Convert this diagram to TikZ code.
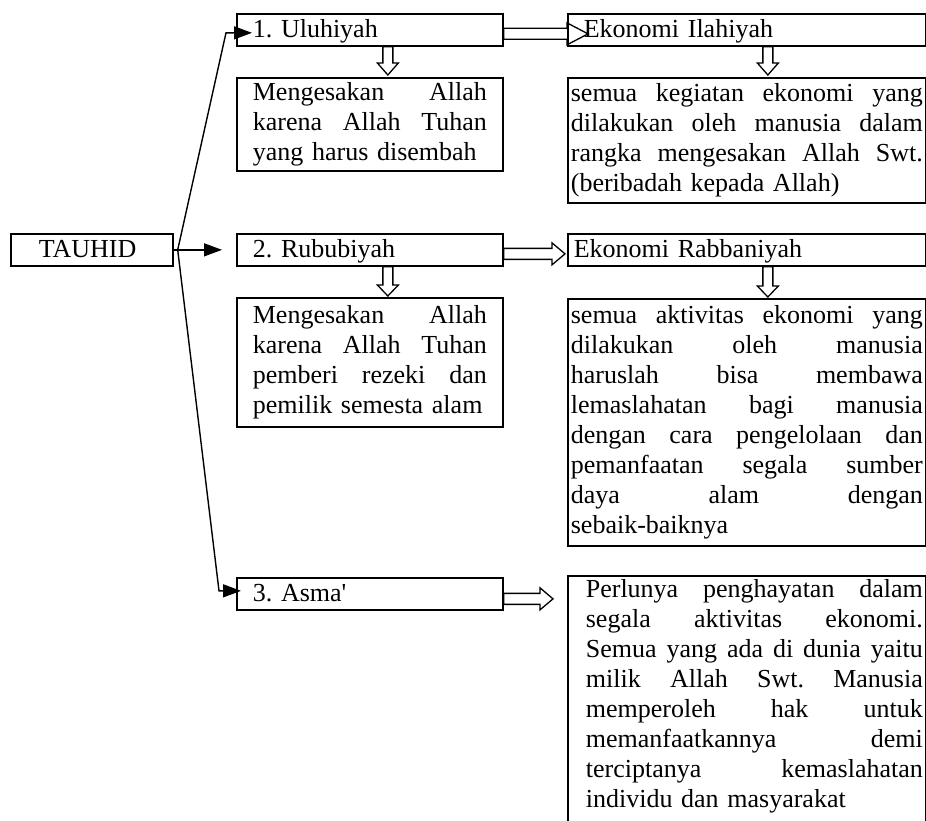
\documentclass[tikz,border=0pt]{standalone}
\usepackage{fontspec}
\setmainfont{Liberation Serif}
\usetikzlibrary{arrows.meta, calc}

% one justified line of a box text (\jw is set by the box style)
\newcommand{\jl}[1]{\leavevmode\hbox to \jw{\spaceskip=.25em plus 1fil\relax #1}\\}
% hollow block arrows
\newcommand{\hollowright}[3]{%
  \draw[hollow] let \p1=#1, \p2=#2 in
    (\x1,\y1+5.5pt) -- (\x2-#3,\y1+5.5pt) -- (\x2-#3,\y1+11pt) -- (\x2,\y1)
    -- (\x2-#3,\y1-11pt) -- (\x2-#3,\y1-5.5pt) -- (\x1,\y1-5.5pt) -- cycle;}
\newcommand{\hollowdown}[3]{%
  \draw[hollow] let \p1=#1, \p2=#2 in
    (\x1-5pt,\y1) -- (\x1-5pt,\y2+#3) -- (\x1-10.5pt,\y2+#3) -- (\x1,\y2)
    -- (\x1+10.5pt,\y2+#3) -- (\x1+5pt,\y2+#3) -- (\x1+5pt,\y1) -- cycle;}

\begin{document}
\begin{tikzpicture}[
  x=1pt, y=-1pt,
  font=\fontsize{26}{30}\selectfont\frenchspacing,
  box/.style={draw, line width=1.7pt, anchor=north west, align=left, inner ysep=1pt},
  headbox/.style={box, text height=23pt, text depth=7pt},
  lcol/.style={inner xsep=16pt, text width=234pt, execute at begin node={\def\jw{234pt}}},
  rcol/.style={inner xsep=3pt, text width=352pt, execute at begin node={\def\jw{352pt}}},
  arr/.style={line width=1.4pt, -{Triangle[length=18pt,width=13pt]}},
  hollow/.style={line width=1.3pt}
]
\useasboundingbox (0,0) rectangle (926,821);
\clip (0,0) rectangle (926,821);

\node[headbox, inner xsep=28pt, text width=106pt] (tauhid) at (10,233) {TAUHID};

% left column
\node[headbox, lcol] (ulu)  at (236,13)  {1. Uluhiyah};
\node[box, lcol, minimum height=93pt] (m1) at (236,77)
  {\strut\jl{Mengesakan Allah}\jl{karena Allah Tuhan}yang harus disembah\strut};
\node[headbox, lcol] (rub)  at (236,233) {2. Rububiyah};
\node[box, lcol, minimum height=129pt] (m2) at (236,297)
  {\strut\jl{Mengesakan Allah}\jl{karena Allah Tuhan}\jl{pemberi rezeki dan}pemilik semesta alam\strut};
\node[headbox, lcol] (asma) at (236,577) {3. Asma\textquotesingle};

% right column
\node[headbox, inner xsep=16pt, text width=326pt] (eil) at (567,13) {Ekonomi Ilahiyah};
\node[box, rcol, minimum height=125pt] (s1) at (567,77)
  {\strut\jl{semua kegiatan ekonomi yang}\jl{dilakukan oleh manusia dalam}\jl{rangka mengesakan Allah Swt.}(beribadah kepada Allah)\strut};
\node[headbox, inner xsep=6pt, text width=346pt] (erb) at (567,233) {Ekonomi Rabbaniyah};
\node[box, rcol, minimum height=247pt] (s2) at (567,298)
  {\strut\jl{semua aktivitas ekonomi yang}\jl{dilakukan oleh manusia}\jl{haruslah bisa membawa}\jl{lemaslahatan bagi manusia}\jl{dengan cara pengelolaan dan}\jl{pemanfaatan segala sumber}\jl{daya alam dengan}sebaik-baiknya\strut};
\node[box, rcol, execute at begin node={\def\jw{337pt}}] (per) at (567,575)
  {\leftskip=15pt\relax\strut\jl{Perlunya penghayatan dalam}\jl{segala aktivitas ekonomi.}\jl{Semua yang ada di dunia yaitu}\jl{milik Allah Swt. Manusia}\jl{memperoleh hak untuk}\jl{memanfaatkannya demi}\jl{terciptanya kemaslahatan}individu dan masyarakat\strut\\[10pt]\mbox{}};

% branches from TAUHID
\coordinate (fork) at ($(tauhid.east)+(4,0)$);
\draw[arr] (tauhid.east) -- ($(rub.west)+(-14,0)$);
\draw[arr] (fork) -- ($(ulu.west)+(-10,3)$) -- ($(ulu.west)+(16,3)$);
\draw[arr] (fork) -- ($(asma.west)+(-17,-3)$) -- ($(asma.west)+(5,-3)$);

% block arrows
\hollowright{($(ulu.east)+(0,4)$)}{($(eil.west)+(21,4)$)}{21pt}
\hollowright{($(rub.east)+(0,4)$)}{($(erb.west)+(-2,4)$)}{13pt}
\hollowright{($(asma.east)+(0,5)$)}{($(asma.east -| per.west)+(-14,5)$)}{13pt}
\hollowdown{($(ulu.south)+(18,0)$)}{($(m1.north)+(18,-2)$)}{12pt}
\hollowdown{($(rub.south)+(18,0)$)}{($(m2.north)+(18,-1)$)}{11pt}
\hollowdown{($(eil.south)+(21,0)$)}{($(s1.north)+(21,-2)$)}{12pt}
\hollowdown{($(erb.south)+(21,0)$)}{($(s2.north)+(21,-1)$)}{11pt}
\end{tikzpicture}
\end{document}
